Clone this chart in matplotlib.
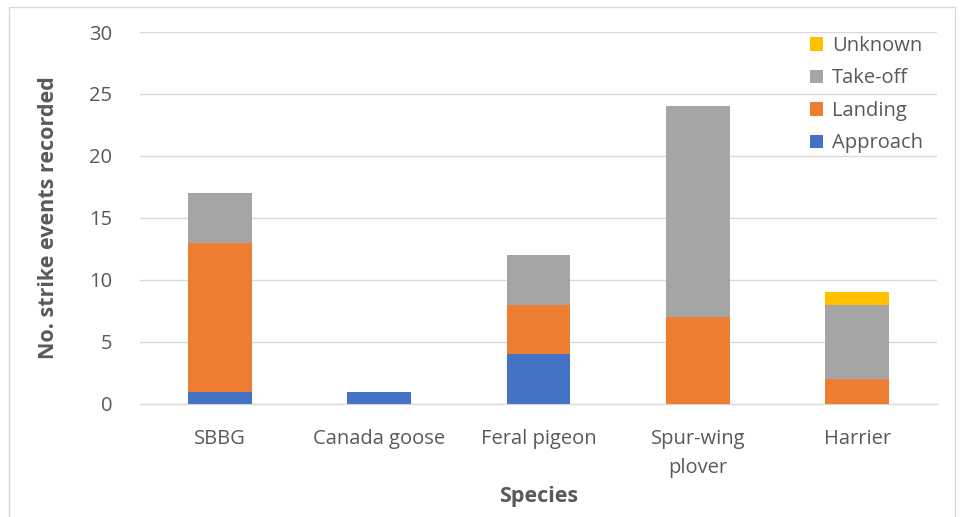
import matplotlib.pyplot as plt
import numpy as np
from matplotlib.patches import Rectangle

plt.rcParams['font.family'] = ['Open Sans', 'DejaVu Sans']

species = ["SBBG", "Canada goose", "Feral pigeon", "Spur-wing\nplover", "Harrier"]
approach = [1, 1, 4, 0, 0]
landing = [12, 0, 4, 7, 2]
takeoff = [4, 0, 4, 17, 6]
unknown = [0, 0, 0, 0, 1]

phases = ["Approach", "Landing", "Take-off", "Unknown"]
colors = ["#4472c4", "#ed7d31", "#a5a5a5", "#ffc000"]
text_col = "#595959"

fig = plt.figure(figsize=(9.63, 5.17), dpi=100)
ax = fig.add_axes([0.1454, 0.2186, 0.8276, 0.7195])

x = np.arange(len(species))
bottom = np.zeros(len(species))
handles = []
for name, vals, c in zip(phases, [approach, landing, takeoff, unknown], colors):
    vals = np.array(vals, dtype=float)
    h = ax.bar(x, vals, width=0.4, bottom=bottom, color=c, label=name, zorder=3)
    bottom += vals
    handles.append(h)

ax.set_xlim(-0.5, len(species) - 0.5)
ax.set_ylim(0, 30)
ax.set_yticks(range(0, 31, 5))
ax.yaxis.grid(True, color="#d9d9d9", linewidth=1, zorder=0)
for s in ["top", "right", "left"]:
    ax.spines[s].set_visible(False)
ax.spines["bottom"].set_color("#d9d9d9")
ax.spines["bottom"].set_linewidth(1)
ax.tick_params(axis="both", length=0, colors=text_col, labelsize=14.5)
ax.tick_params(axis="y", pad=20)
ax.tick_params(axis="x", pad=18)
ax.set_xticks(x)
ax.set_xticklabels(species, linespacing=1.6)

ax.set_ylabel("No. strike events recorded", fontsize=15.5, fontweight="bold",
              color=text_col, labelpad=22)
ax.set_xlabel("Species", fontsize=15.5, fontweight="bold", color=text_col, labelpad=6)

leg = ax.legend(handles[::-1], phases[::-1], loc="upper right",
                bbox_to_anchor=(1.005, 1.038), frameon=False, fontsize=14.5,
                handlelength=0.65, handleheight=0.65, handletextpad=0.45,
                labelspacing=0.62, labelcolor=text_col)

# outer chart border
fig.patches.append(Rectangle((9 / 963, -0.01), 946 / 963, 1 - 7 / 517 + 0.01,
                             transform=fig.transFigure, fill=False,
                             edgecolor="#d9d9d9", linewidth=1))

fig.savefig("out.png", dpi=100)
